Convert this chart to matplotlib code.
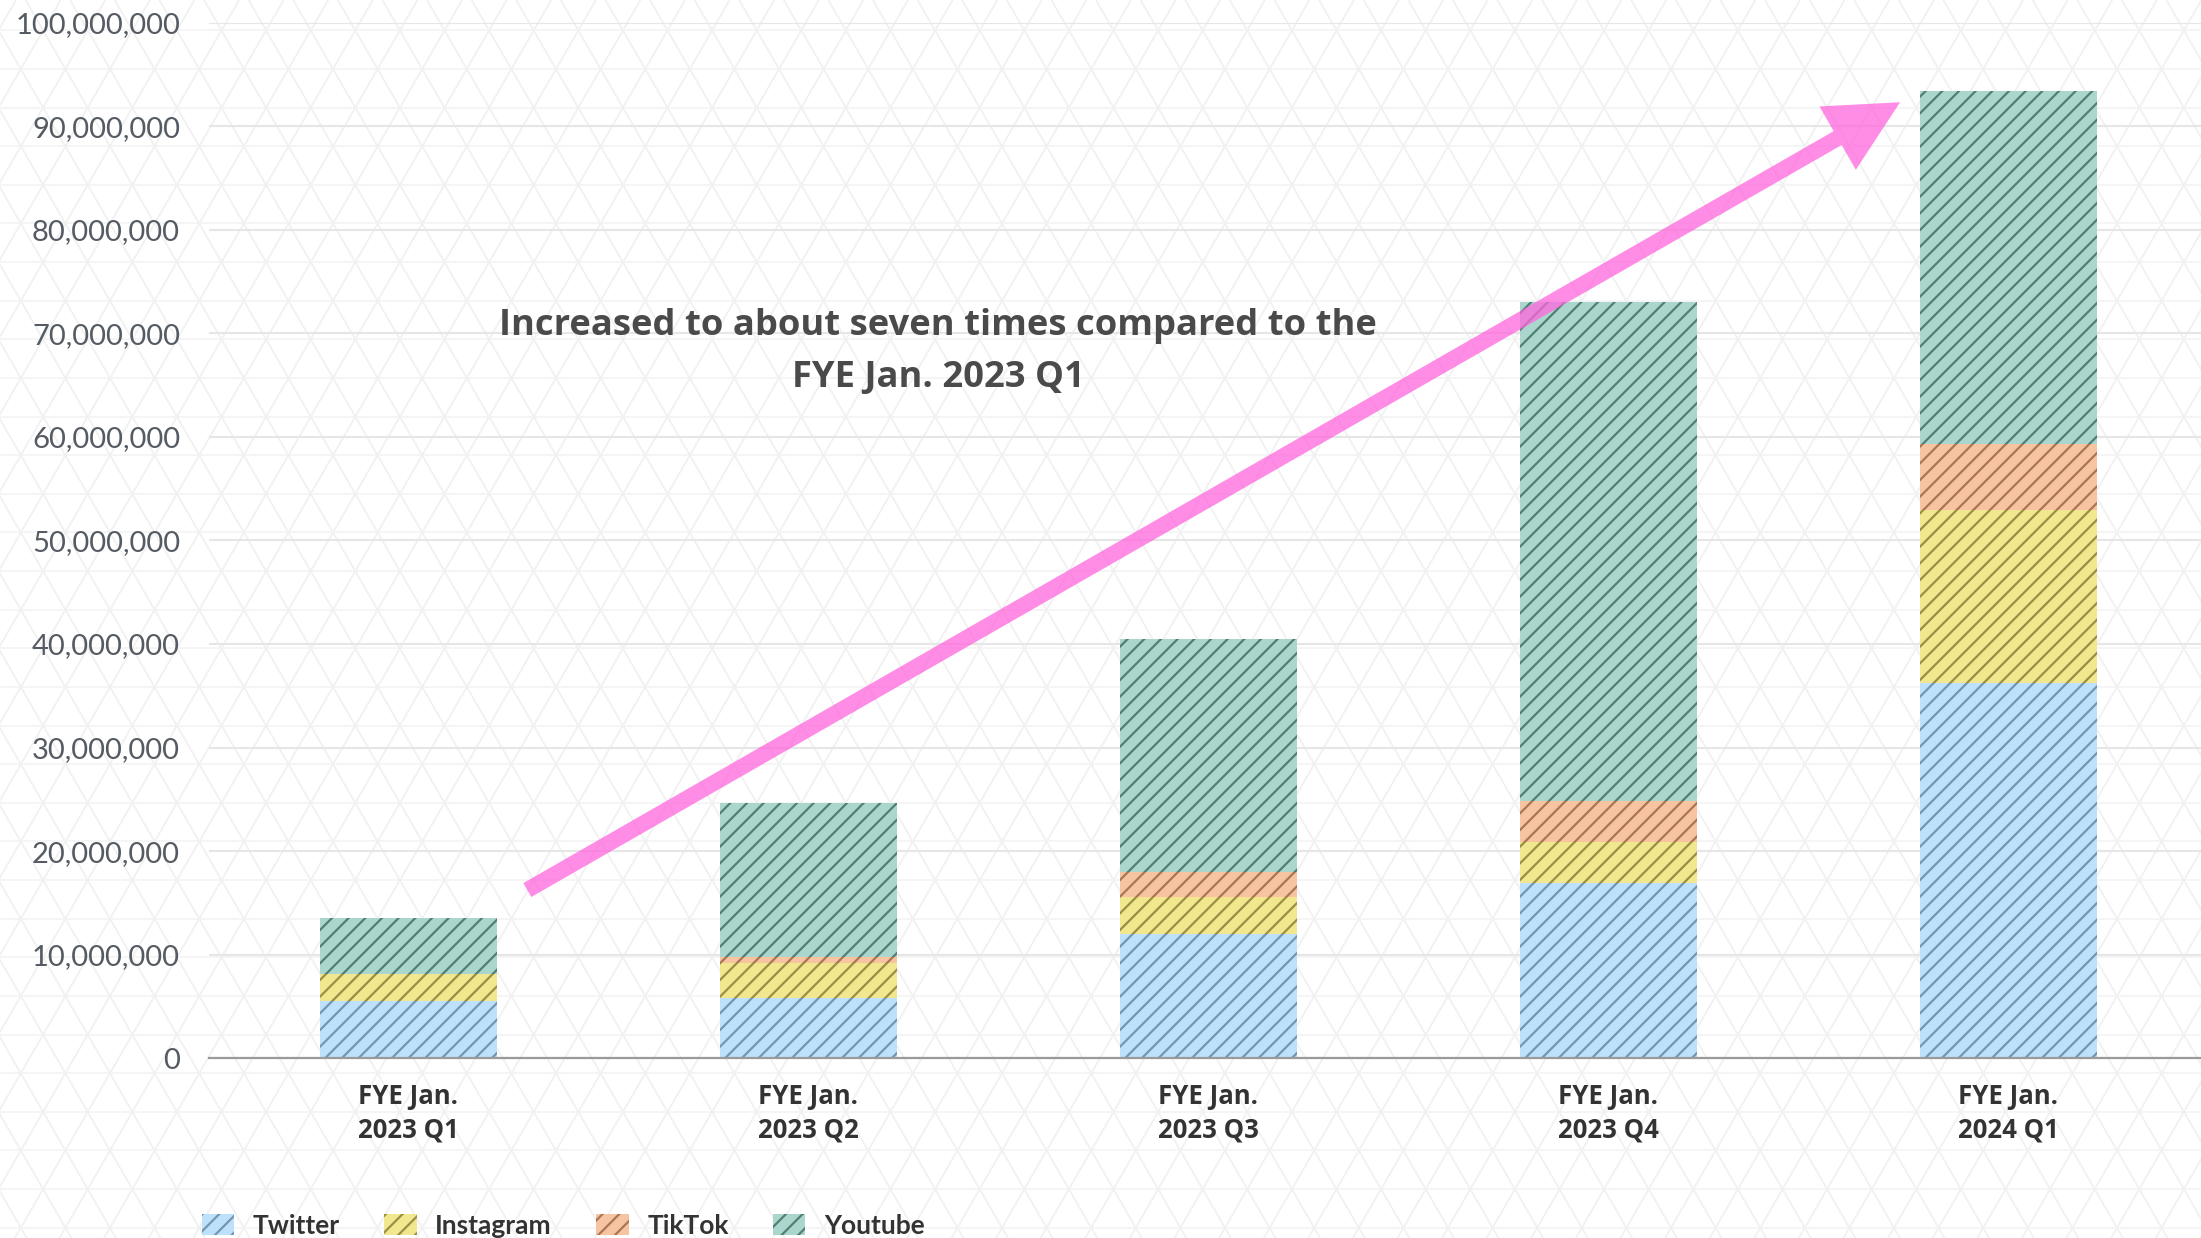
import numpy as np
import matplotlib
matplotlib.use('Agg')
import matplotlib.pyplot as plt
from matplotlib.collections import LineCollection
from matplotlib.patches import Polygon
from matplotlib.ticker import FuncFormatter

plt.rcParams['font.family'] = ['Lato', 'DejaVu Sans']
plt.rcParams['hatch.linewidth'] = 1.6

# quarterly views per platform
quarters = ['FYE Jan.\n2023 Q1', 'FYE Jan.\n2023 Q2', 'FYE Jan.\n2023 Q3',
            'FYE Jan.\n2023 Q4', 'FYE Jan.\n2024 Q1']
twitter = [5_550_000, 5_850_000, 12_050_000, 16_950_000, 36_200_000]
instagram = [2_600_000, 3_350_000, 3_550_000, 3_950_000, 16_700_000]
tiktok = [0, 550_000, 2_400_000, 3_900_000, 6_450_000]
youtube = [5_400_000, 14_900_000, 22_500_000, 48_200_000, 34_000_000]

series_names = ['Twitter', 'Instagram', 'TikTok', 'Youtube']
fill_colors = ['#bde1fa', '#f1e78e', '#f7c4a2', '#aad6cd']
hatch_colors = ['#7396b2', '#9a8f45', '#ad7452', '#4f8172']

W, H = 2201, 1238
fig = plt.figure(figsize=(W / 100, H / 100), dpi=100)
fig.patch.set_facecolor('white')

# faint triangular lattice behind everything
bg = fig.add_axes([0, 0, 1, 1], zorder=0)
bg.set_xlim(0, W)
bg.set_ylim(H, 0)
bg.axis('off')
a = 44.6
h = a * np.sqrt(3) / 2
x0, y0 = 333, 69
s = (a / 2) / h
rows = [[(0, y0 + k * h), (W, y0 + k * h)] for k in range(-3, int(H / h) + 3)]
bg.add_collection(LineCollection(rows, colors='#f5f5f5', linewidths=1.3))
diag = []
for j in range(-40, 70):
    c = x0 + j * a
    diag.append([(c - s * y0, 0), (c + s * (H - y0), H)])
    diag.append([(c + s * y0, 0), (c - s * (H - y0), H)])
bg.add_collection(LineCollection(diag, colors='#f1f1f1', linewidths=1.3))

# main chart
ax = fig.add_axes([208.5 / W, 1 - 1058.4 / H, 2000 / W, (1058.4 - 22.5) / H], zorder=1)
ax.set_facecolor('none')
x = np.arange(len(quarters))
bottom = np.zeros(len(quarters))
for name, vals, fc, hc in zip(series_names, [twitter, instagram, tiktok, youtube],
                              fill_colors, hatch_colors):
    ax.bar(x, vals, width=0.442, bottom=bottom, color=fc, edgecolor=hc,
           hatch='//', linewidth=0, label=name, zorder=3)
    bottom += np.array(vals)

ax.set_xlim(-0.5, 4.5)
ax.set_ylim(0, 100_000_000)
ax.set_yticks(np.arange(0, 100_000_001, 10_000_000))
ax.yaxis.set_major_formatter(FuncFormatter(lambda v, p: f'{int(v):,}'))
ax.grid(axis='y', color='#e6e6e6', linewidth=1.5)
ax.set_axisbelow(True)
for side in ['top', 'right', 'left']:
    ax.spines[side].set_visible(False)
ax.spines['bottom'].set_color('#9a9a9a')
ax.spines['bottom'].set_linewidth(1.6)
ax.spines['bottom'].set_zorder(4)

ax.tick_params(axis='y', length=0, pad=20.5, labelsize=21, labelcolor='#555b63')
ax.tick_params(axis='x', length=0, pad=17.5)
ax.set_xticks(x)
ax.set_xticklabels(quarters, fontsize=18.5, fontweight='bold', color='#333333',
                   family=['Open Sans', 'DejaVu Sans'], linespacing=1.3)

ax.text(1.324, 68.2e6,
        'Increased to about seven times compared to the\nFYE Jan. 2023 Q1',
        ha='center', va='center', fontsize=26.2, fontweight='bold',
        family=['Open Sans', 'DejaVu Sans'],
        color='#4a4a4a', linespacing=1.62, zorder=6)

# pink trend arrow, shaped in pixel space so the head keeps its proportions
tail = ax.transData.transform((0.297, 16.25e6))
tip = ax.transData.transform((3.729, 92.3e6))
u = (tip - tail) / np.linalg.norm(tip - tail)
n = np.array([-u[1], u[0]])
shaft_w, head_w, head_l = 16, 73, 72
base = tip - u * head_l
pts = [tail + n * shaft_w / 2, base + n * shaft_w / 2, base + n * head_w / 2, tip,
       base - n * head_w / 2, base - n * shaft_w / 2, tail - n * shaft_w / 2]
pts = ax.transData.inverted().transform(np.array(pts))
ax.add_patch(Polygon(pts, closed=True, facecolor='#ff66dd', edgecolor='none',
                     alpha=0.75, zorder=5, clip_on=False))

ax.legend(loc='lower left', bbox_to_anchor=(202 / W, 0.0),
          bbox_transform=fig.transFigure, ncol=4, frameon=False,
          prop={'weight': 'bold', 'size': 19}, labelcolor='#333333',
          handlelength=1.23, handleheight=0.85, handletextpad=0.7,
          columnspacing=1.68, borderpad=0, borderaxespad=0)

fig.savefig('out.png', dpi=100)
